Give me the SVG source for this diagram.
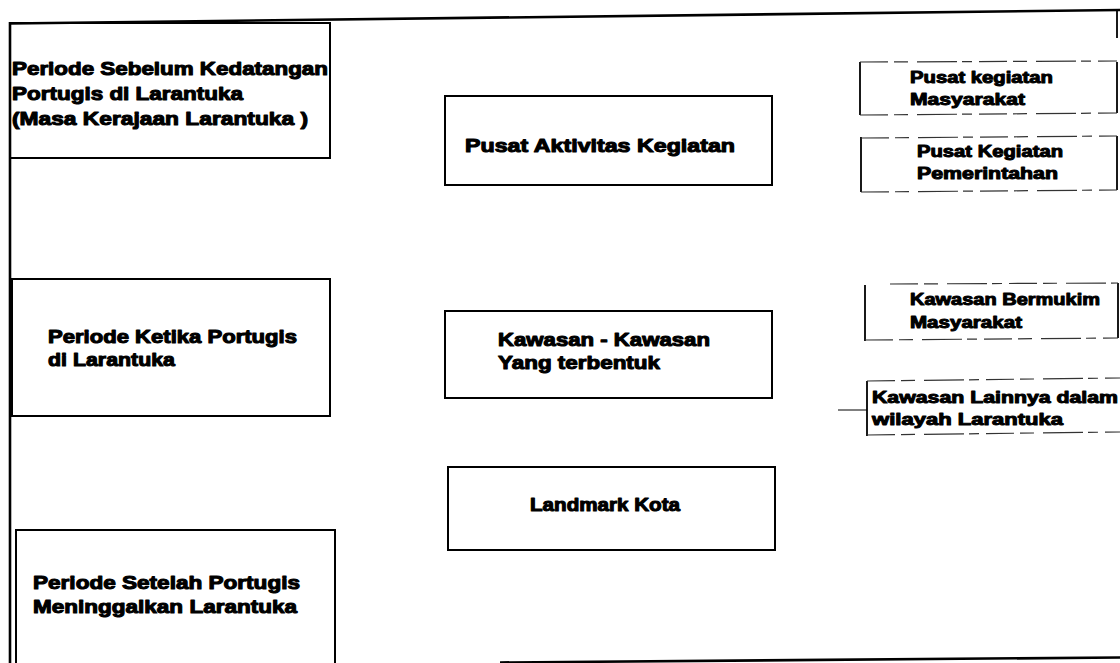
<svg xmlns="http://www.w3.org/2000/svg" width="1120" height="663" viewBox="0 0 1120 663">
  <style>
    .box { fill: none; stroke: #000; stroke-width: 2; }
    .frame { fill: none; stroke: #000; stroke-width: 2.6; }
    .side { stroke: #000; stroke-width: 1.8; fill: none; }
    .dash { stroke: #333; stroke-width: 1.2; fill: none; stroke-dasharray: 28 6 14 9 40 5 10 7; }
    .t { font-family: "Liberation Sans", Arial, sans-serif; font-weight: bold; font-size: 19px; fill: #000; stroke: #000; stroke-width: 1.1; stroke-linejoin: round; }
    .s { font-size: 16px; stroke-width: 1; }
  </style>
  <rect width="1120" height="663" fill="#fff"/>

  <!-- outer frame -->
  <g id="frame">
    <line class="frame" x1="10" y1="23.5" x2="1120" y2="10"/>
    <line class="frame" x1="10" y1="22" x2="10" y2="663"/>
    <line class="frame" x1="500" y1="662.5" x2="1120" y2="657.5"/>
    <line class="side" x1="1117" y1="10" x2="1117" y2="38" stroke-width="1.2"/>
  </g>

  <!-- period column -->
  <g id="period-before">
    <rect class="box" x="10" y="23" width="320" height="135"/>
    <text class="t" x="12" y="75" textLength="316" lengthAdjust="spacingAndGlyphs">Periode Sebelum Kedatangan</text>
    <text class="t" x="12" y="100" textLength="231" lengthAdjust="spacingAndGlyphs">Portugis di Larantuka</text>
    <text class="t" x="12" y="125" textLength="296" lengthAdjust="spacingAndGlyphs">(Masa Kerajaan Larantuka )</text>
  </g>
  <g id="period-during">
    <rect class="box" x="12" y="279" width="318" height="137"/>
    <text class="t" x="48" y="343" textLength="249" lengthAdjust="spacingAndGlyphs">Periode Ketika Portugis</text>
    <text class="t" x="48" y="366" textLength="127" lengthAdjust="spacingAndGlyphs">di Larantuka</text>
  </g>
  <g id="period-after">
    <rect class="box" x="16" y="530" width="319" height="140"/>
    <text class="t" x="33" y="589" textLength="267" lengthAdjust="spacingAndGlyphs">Periode Setelah Portugis</text>
    <text class="t" x="33" y="613" textLength="264" lengthAdjust="spacingAndGlyphs">Meninggalkan Larantuka</text>
  </g>

  <!-- aspect column -->
  <g id="activity-centre">
    <rect class="box" x="445" y="96" width="327" height="89"/>
    <text class="t" x="465" y="152" textLength="270" lengthAdjust="spacingAndGlyphs">Pusat Aktivitas Kegiatan</text>
  </g>
  <g id="districts">
    <rect class="box" x="445" y="311" width="327" height="87"/>
    <text class="t" x="498" y="346" textLength="212" lengthAdjust="spacingAndGlyphs">Kawasan - Kawasan</text>
    <text class="t" x="498" y="369" textLength="162" lengthAdjust="spacingAndGlyphs">Yang terbentuk</text>
  </g>
  <g id="landmark">
    <rect class="box" x="448" y="467" width="327" height="83"/>
    <text class="t" x="530" y="511" textLength="150" lengthAdjust="spacingAndGlyphs">Landmark Kota</text>
  </g>

  <!-- detail column -->
  <g id="community-centre">
    <line class="side" x1="860" y1="62" x2="860" y2="115"/>
    <line class="side" x1="1117" y1="62" x2="1117" y2="113"/>
    <line class="dash" x1="860" y1="62" x2="1117" y2="61"/>
    <line class="dash" x1="860" y1="115" x2="1117" y2="113"/>
    <text class="t s" x="910" y="83" textLength="143" lengthAdjust="spacingAndGlyphs">Pusat kegiatan</text>
    <text class="t s" x="910" y="105" textLength="115" lengthAdjust="spacingAndGlyphs">Masyarakat</text>
  </g>
  <g id="government-centre">
    <line class="side" x1="861" y1="137" x2="861" y2="192"/>
    <line class="side" x1="1117" y1="136" x2="1117" y2="190"/>
    <line class="dash" x1="861" y1="138" x2="1117" y2="136"/>
    <line class="dash" x1="861" y1="192" x2="1117" y2="190"/>
    <text class="t s" x="917" y="157" textLength="146" lengthAdjust="spacingAndGlyphs">Pusat Kegiatan</text>
    <text class="t s" x="917" y="179" textLength="141" lengthAdjust="spacingAndGlyphs">Pemerintahan</text>
  </g>
  <g id="settlement">
    <line class="side" x1="865" y1="285" x2="865" y2="341"/>
    <line class="side" x1="1118" y1="283" x2="1118" y2="338" stroke-width="1"/>
    <line class="dash" x1="890" y1="284" x2="1118" y2="283"/>
    <line class="dash" x1="865" y1="340" x2="1118" y2="338"/>
    <text class="t s" x="910" y="305" textLength="190" lengthAdjust="spacingAndGlyphs">Kawasan Bermukim</text>
    <text class="t s" x="910" y="328" textLength="112" lengthAdjust="spacingAndGlyphs">Masyarakat</text>
  </g>
  <g id="other-districts">
    <line class="side" x1="867" y1="381" x2="867" y2="436"/>
    <line class="dash" x1="867" y1="381" x2="1120" y2="378"/>
    <line class="dash" x1="867" y1="435" x2="1120" y2="432"/>
    <text class="t s" x="872" y="403" textLength="246" lengthAdjust="spacingAndGlyphs">Kawasan Lainnya dalam</text>
    <text class="t s" x="872" y="425" textLength="191" lengthAdjust="spacingAndGlyphs">wilayah Larantuka</text>
  </g>

  <g id="connectors">
    <line x1="838" y1="410" x2="867" y2="410" stroke="#000" stroke-width="1"/>
  </g>
</svg>
